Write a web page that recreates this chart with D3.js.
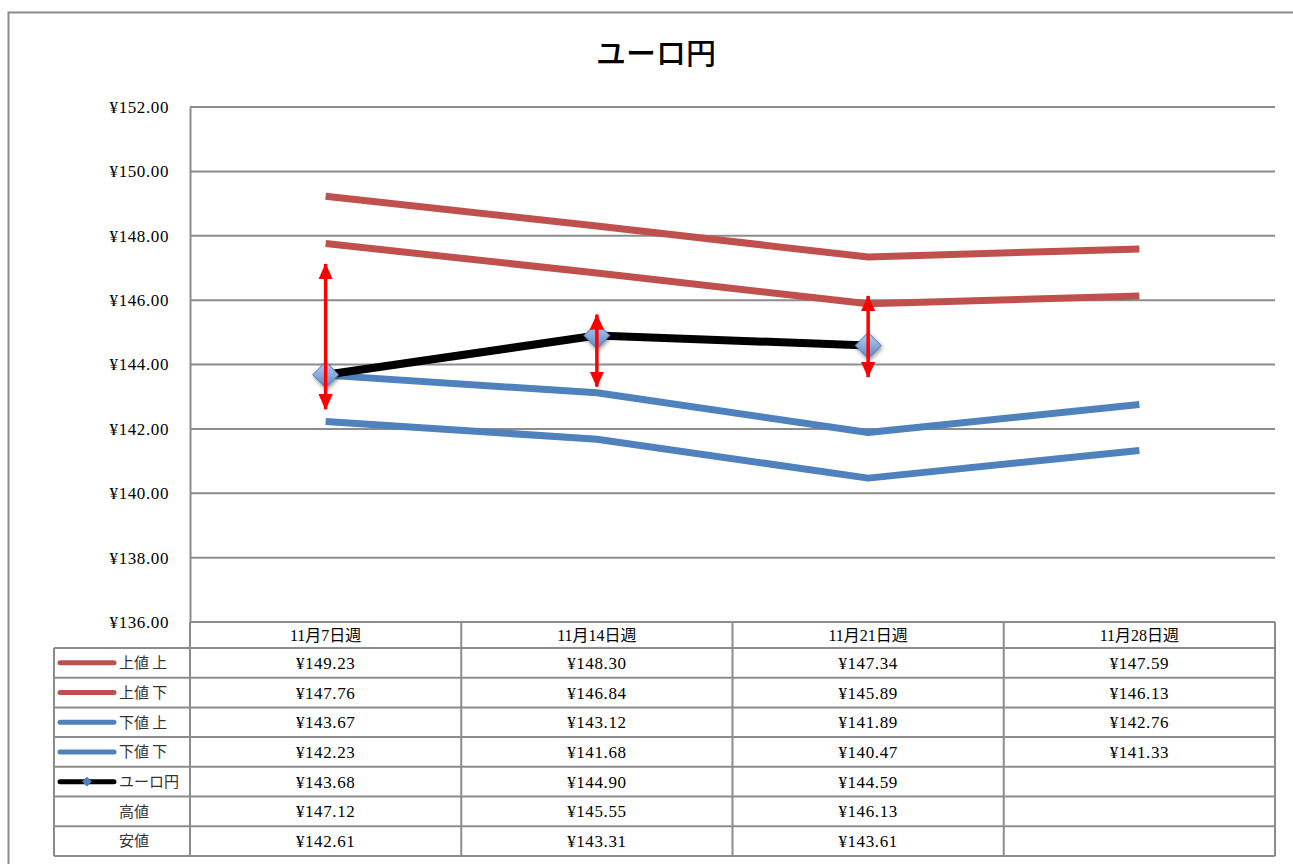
<!DOCTYPE html>
<html><head><meta charset="utf-8">
<script src="https://cdn.jsdelivr.net/npm/d3@7"></script>
<style>
html,body{margin:0;padding:0;background:#fff;}
svg{display:block;}
text{font-family:"Liberation Serif","Noto Sans CJK JP",serif;fill:#000;}
</style></head>
<body><svg id="c" width="1293" height="864"></svg>
<script>
const title = "ユーロ円";
const categories = ["11月7日週","11月14日週","11月21日週","11月28日週"];
const upperHigh = [149.23,148.30,147.34,147.59];
const upperLow  = [147.76,146.84,145.89,146.13];
const lowerHigh = [143.67,143.12,141.89,142.76];
const lowerLow  = [142.23,141.68,140.47,141.33];
const euroYen   = [143.68,144.90,144.59,null];
const highs     = [147.12,145.55,146.13,null];
const lows      = [142.61,143.31,143.61,null];
const yTicks = [136,138,140,142,144,146,148,150,152];
const seriesNames = ["上値 上","上値 下","下値 上","下値 下","ユーロ円","高値","安値"];

const svg = d3.select("#c");
const L = 190, R = 1275, T = 107, B = 622;
const x = d3.scaleBand().domain(categories).range([L, R]).padding(0);
const y = d3.scaleLinear().domain([136,152]).range([B, T]);
const cx = c => x(c) + x.bandwidth()/2;
const grey = "#8c8c8c";

// defs
const defs = svg.append("defs");
const grad = defs.append("linearGradient").attr("id","dg").attr("x1","0").attr("y1","0").attr("x2","0").attr("y2","1");
grad.append("stop").attr("offset","0%").attr("stop-color","#b9d0f0");
grad.append("stop").attr("offset","100%").attr("stop-color","#5a86c8");
const sh = defs.append("filter").attr("id","sh").attr("x","-50%").attr("y","-50%").attr("width","200%").attr("height","200%");
sh.append("feGaussianBlur").attr("in","SourceAlpha").attr("stdDeviation",2).attr("result","b");
sh.append("feOffset").attr("in","b").attr("dx",1).attr("dy",2).attr("result","o");
sh.append("feComponentTransfer").attr("in","o").attr("result","o2").append("feFuncA").attr("type","linear").attr("slope",0.45);
const mg = sh.append("feMerge"); mg.append("feMergeNode").attr("in","o2"); mg.append("feMergeNode").attr("in","SourceGraphic");
defs.append("marker").attr("id","ah").attr("viewBox","0 0 10 10")
  .attr("refX",9.5).attr("refY",5).attr("markerUnits","userSpaceOnUse")
  .attr("markerWidth",16).attr("markerHeight",17).attr("orient","auto-start-reverse")
  .append("path").attr("d","M0,0.5 L10,5 L0,9.5 Z").attr("fill","#ff0000");

// outer frame
svg.append("rect").attr("x",8.5).attr("y",12.5).attr("width",1310).attr("height",900)
  .attr("fill","none").attr("stroke",grey).attr("stroke-width",2);

// title
svg.append("text").attr("x",656).attr("y",64).attr("text-anchor","middle")
  .style("font-family","'Noto Sans CJK JP',serif").style("font-size","30px").style("font-weight","500").text(title);

// gridlines
svg.append("g").selectAll("line").data(yTicks).join("line")
  .attr("x1",L).attr("x2",R).attr("y1",d=>y(d)).attr("y2",d=>y(d))
  .attr("stroke",grey).attr("stroke-width",2);
// y axis
const yAxis = d3.axisLeft(y).tickValues(yTicks).tickSize(0).tickPadding(21)
  .tickFormat(d=>"¥"+d3.format(".2f")(d));
const ga = svg.append("g").attr("transform",`translate(${L},0)`).call(yAxis);
ga.select(".domain").attr("stroke",grey).attr("stroke-width",2);
ga.selectAll("text").style("font-size","17px").style("letter-spacing","0.6px")
  .style("font-family","'Liberation Serif',serif").attr("dy","0.32em");

// series lines
const line = d3.line().defined(d=>d.v!=null).x(d=>cx(d.c)).y(d=>y(d.v));
const toPts = arr => arr.map((v,i)=>({c:categories[i],v}));
const series = [
  {vals:upperHigh,color:"#c0504d",w:7},
  {vals:upperLow,color:"#c0504d",w:7},
  {vals:lowerHigh,color:"#4f81bd",w:7},
  {vals:lowerLow,color:"#4f81bd",w:7},
  {vals:euroYen,color:"#000000",w:8}
];
svg.append("g").selectAll("path").data(series).join("path")
  .attr("d",s=>line(toPts(s.vals))).attr("fill","none")
  .attr("stroke",s=>s.color).attr("stroke-width",s=>s.w).attr("stroke-linejoin","round");

// markers
const diamond = (r)=>`M0,${-r} L${r},0 L0,${r} L${-r},0 Z`;
svg.append("g").selectAll("path").data(toPts(euroYen).filter(d=>d.v!=null)).join("path")
  .attr("transform",d=>`translate(${cx(d.c)},${y(d.v)})`).attr("d",diamond(13))
  .attr("fill","url(#dg)").attr("stroke","#4a74b0").attr("stroke-width",1).attr("filter","url(#sh)");

// high-low arrows
const hl = categories.map((c,i)=>({c,h:highs[i],l:lows[i]})).filter(d=>d.h!=null);
svg.append("g").selectAll("line").data(hl).join("line")
  .attr("x1",d=>cx(d.c)).attr("x2",d=>cx(d.c)).attr("y1",d=>y(d.h)).attr("y2",d=>y(d.l))
  .attr("stroke","#ff0000").attr("stroke-width",3.5)
  .attr("marker-start","url(#ah)").attr("marker-end","url(#ah)");

// data table
const TL = 54, hdrB = 648, rowH = 29.7;
const tbl = svg.append("g");
tbl.selectAll("text.hd").data(categories).join("text").attr("class","hd")
  .attr("x",d=>cx(d)).attr("y",(B+hdrB)/2).attr("dy","0.35em").attr("text-anchor","middle")
  .style("font-size","16px").text(d=>d);
const rowsData = [upperHigh,upperLow,lowerHigh,lowerLow,euroYen,highs,lows];
const nRows = rowsData.length;
const tBottom = hdrB + nRows*rowH;
const hLines = d3.range(nRows+1).map(i=>hdrB + i*rowH);
tbl.selectAll("line.h").data(hLines).join("line").attr("class","h")
  .attr("x1",TL).attr("x2",R).attr("y1",d=>d).attr("y2",d=>d).attr("stroke",grey).attr("stroke-width",2);
const vLines = categories.map(c=>x(c)).concat([R]);
tbl.selectAll("line.v").data(vLines).join("line").attr("class","v")
  .attr("x1",d=>d).attr("x2",d=>d).attr("y1",B).attr("y2",tBottom).attr("stroke",grey).attr("stroke-width",2);
tbl.append("line").attr("x1",TL).attr("x2",TL).attr("y1",hdrB).attr("y2",tBottom).attr("stroke",grey).attr("stroke-width",2);
rowsData.forEach((vals,r)=>{
  const yc = hdrB + r*rowH + rowH/2;
  tbl.append("g").selectAll("text").data(vals.map((v,i)=>({v,c:categories[i]})).filter(d=>d.v!=null)).join("text")
    .attr("x",d=>cx(d.c)).attr("y",yc).attr("dy","0.35em").attr("text-anchor","middle")
    .style("font-size","17px").style("letter-spacing","0.6px").text(d=>"¥"+d3.format(".2f")(d.v));
});
const legendKeys = [
  {color:"#c0504d"},{color:"#c0504d"},{color:"#4f81bd"},{color:"#4f81bd"},{color:"#000",marker:true},{},{}
];
legendKeys.forEach((k,r)=>{
  const yc = hdrB + r*rowH + rowH/2;
  if(k.color){
    tbl.append("line").attr("x1",60).attr("x2",114).attr("y1",yc).attr("y2",yc)
      .attr("stroke",k.color).attr("stroke-width",5).attr("stroke-linecap","round");
    if(k.marker) tbl.append("path").attr("transform",`translate(87,${yc})`).attr("d",diamond(4.5))
      .attr("fill","#4f81bd").attr("stroke","#3a6aa8").attr("stroke-width",0.8);
    tbl.append("text").attr("x",119).attr("y",yc).attr("dy","0.35em")
      .style("font-family","'Noto Sans CJK JP',sans-serif").style("font-size","15px").style("fill","#333").text(seriesNames[r]);
  } else {
    tbl.append("text").attr("x",134).attr("y",yc).attr("dy","0.35em").attr("text-anchor","middle")
      .style("font-family","'Noto Sans CJK JP',sans-serif").style("font-size","15px").style("fill","#333").text(seriesNames[r]);
  }
});
</script></body></html>
